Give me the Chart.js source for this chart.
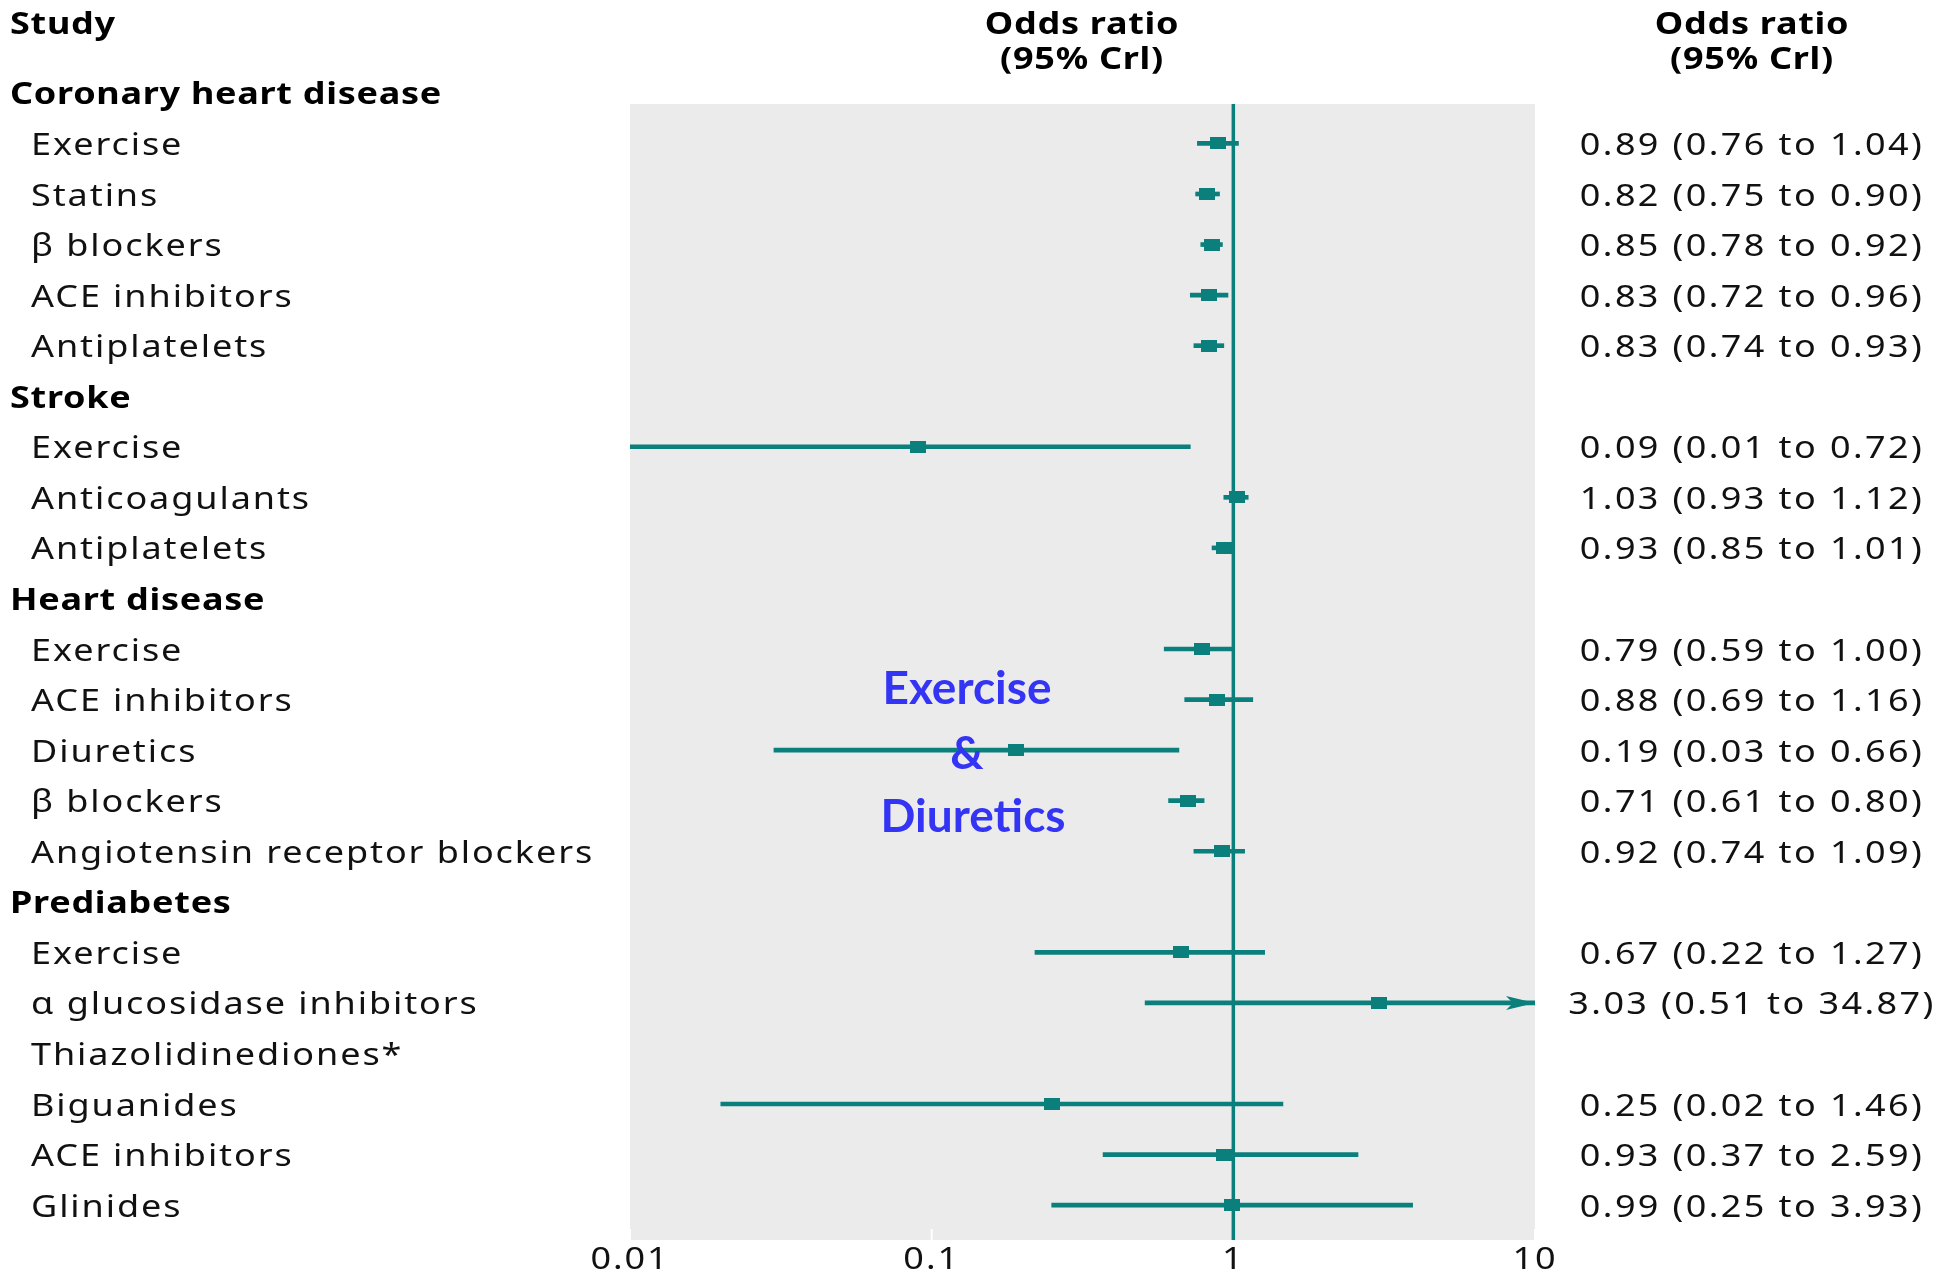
<!DOCTYPE html>
<html>
<head>
<meta charset="utf-8">
<script src="https://cdn.jsdelivr.net/npm/chart.js@4.4.1/dist/chart.umd.min.js"></script>
<style>
  html, body { margin: 0; padding: 0; background: #fff; }
  #wrap { width: 1944px; height: 1274px; }
</style>
</head>
<body>
<div id="wrap"><canvas id="forest" width="1944" height="1274"></canvas></div>
<script>
// rows top to bottom, headers have no estimate
const studies = [
  "Coronary heart disease", "Exercise", "Statins", "β blockers", "ACE inhibitors", "Antiplatelets",
  "Stroke", "Exercise", "Anticoagulants", "Antiplatelets",
  "Heart disease", "Exercise", "ACE inhibitors", "Diuretics", "β blockers", "Angiotensin receptor blockers",
  "Prediabetes", "Exercise", "α glucosidase inhibitors", "Thiazolidinediones*", "Biguanides", "ACE inhibitors", "Glinides"
];
const isGroup = [
  true, false, false, false, false, false,
  true, false, false, false,
  true, false, false, false, false, false,
  true, false, false, false, false, false, false
];
const oddsRatio = [
  null, 0.89, 0.82, 0.85, 0.83, 0.83,
  null, 0.09, 1.03, 0.93,
  null, 0.79, 0.88, 0.19, 0.71, 0.92,
  null, 0.67, 3.03, null, 0.25, 0.93, 0.99
];
const lowerCrl = [
  null, 0.76, 0.75, 0.78, 0.72, 0.74,
  null, 0.01, 0.93, 0.85,
  null, 0.59, 0.69, 0.03, 0.61, 0.74,
  null, 0.22, 0.51, null, 0.02, 0.37, 0.25
];
const upperCrl = [
  null, 1.04, 0.90, 0.92, 0.96, 0.93,
  null, 0.72, 1.12, 1.01,
  null, 1.00, 1.16, 0.66, 0.80, 1.09,
  null, 1.27, 34.87, null, 1.46, 2.59, 3.93
];
const tickValues = [0.01, 0.1, 1, 10];
const tickLabels = ["0.01", "0.1", "1", "10"];

const TEAL = "#0b7f7b";
const INK = "#111111";
const X_MIN = 0.01, X_MAX = 10;
const Y_MIN = 0.22, Y_MAX = 22.69;

const fmt = v => v.toFixed(2);

// rectangular marker (the original squares are a bit wider than tall)
const marker = document.createElement("canvas");
marker.width = 16;
marker.height = 12;
const mctx = marker.getContext("2d");
mctx.fillStyle = TEAL;
mctx.fillRect(0, 0, 16, 12);

const ciData = [];
const pointData = [];
oddsRatio.forEach((v, i) => {
  if (v === null) return;
  ciData.push({ y: i, x: [lowerCrl[i], upperCrl[i]] });
  pointData.push({ y: i, x: v });
});

function drawText(ctx, text, x, y, o) {
  ctx.save();
  ctx.font = o.font;
  ctx.fillStyle = o.color || INK;
  ctx.textAlign = o.align || "left";
  ctx.textBaseline = "middle";
  ctx.letterSpacing = o.spacing || "0px";
  ctx.translate(x, y + 3);
  ctx.scale(o.sx || 1, 1);
  ctx.fillText(text, 0, 0);
  ctx.restore();
}

const REG = "30px 'Noto Sans'";
const BOLD = "bold 30px 'Noto Sans'";
const regStyle = { font: REG, sx: 1.2, spacing: "1.6px" };
const boldStyle = { font: BOLD, color: "#000", sx: 1.2, spacing: "0.6px" };

const forestPlugin = {
  id: "forest",
  beforeDatasetsDraw(chart) {
    const { ctx, chartArea: a } = chart;
    const xs = chart.scales.x;
    ctx.save();
    ctx.fillStyle = "#ebebeb";
    ctx.fillRect(a.left, a.top, a.right - a.left, a.bottom - a.top);
    // small white ticks at the bottom edge
    ctx.strokeStyle = "#ffffff";
    ctx.lineWidth = 2;
    tickValues.forEach(v => {
      const px = xs.getPixelForValue(v);
      ctx.beginPath();
      ctx.moveTo(px, a.bottom - 11);
      ctx.lineTo(px, a.bottom);
      ctx.stroke();
    });
    ctx.restore();
  },
  afterDatasetsDraw(chart) {
    const { ctx, chartArea: a } = chart;
    const xs = chart.scales.x, ys = chart.scales.y;

    // arrow for intervals running past the axis
    upperCrl.forEach((hi, i) => {
      if (hi === null || hi <= X_MAX) return;
      const tip = xs.getPixelForValue(X_MAX);
      const py = ys.getPixelForValue(i);
      ctx.save();
      ctx.fillStyle = TEAL;
      ctx.beginPath();
      ctx.moveTo(tip, py);
      ctx.lineTo(tip - 29, py - 7);
      ctx.lineTo(tip - 22, py);
      ctx.lineTo(tip - 29, py + 7);
      ctx.closePath();
      ctx.fill();
      ctx.restore();
    });

    // headers
    drawText(ctx, "Study", 10, 22, boldStyle);
    [1082, 1752].forEach(cx => {
      drawText(ctx, "Odds ratio", cx, 22, { ...boldStyle, align: "center" });
      drawText(ctx, "(95% Crl)", cx, 57, { ...boldStyle, align: "center" });
    });

    // study labels and estimates
    studies.forEach((name, i) => {
      const py = ys.getPixelForValue(i);
      if (isGroup[i]) {
        drawText(ctx, name, 10, py, boldStyle);
      } else {
        drawText(ctx, name, 31, py, regStyle);
      }
      if (oddsRatio[i] !== null) {
        const txt = fmt(oddsRatio[i]) + " (" + fmt(lowerCrl[i]) + " to " + fmt(upperCrl[i]) + ")";
        drawText(ctx, txt, 1752, py, { ...regStyle, align: "center", spacing: "2px" });
      }
    });

    // x tick labels
    tickValues.forEach((v, k) => {
      drawText(ctx, tickLabels[k], xs.getPixelForValue(v), a.bottom + 17, { ...regStyle, align: "center" });
    });

    // annotation
    const note = ["Exercise", "&", "Diuretics"];
    const noteX = [967, 967, 973];
    const noteY = [686, 751, 814];
    note.forEach((t, k) => {
      drawText(ctx, t, noteX[k], noteY[k], { font: "bold 46px Lato", color: "#3434f4", align: "center" });
    });
  }
};

new Chart(document.getElementById("forest"), {
  data: {
    datasets: [
      {
        type: "scatter",
        label: "Odds ratio",
        data: pointData,
        pointStyle: marker,
        order: 0
      },
      {
        type: "bar",
        label: "95% Crl",
        data: ciData,
        backgroundColor: TEAL,
        barThickness: 4,
        order: 1
      },
      {
        type: "line",
        label: "No effect",
        data: [{ x: 1, y: Y_MIN }, { x: 1, y: Y_MAX }],
        borderColor: TEAL,
        borderWidth: 3.5,
        pointRadius: 0,
        order: 2
      }
    ]
  },
  options: {
    responsive: false,
    animation: false,
    indexAxis: "y",
    layout: { padding: { left: 630, right: 409, top: 104, bottom: 34 } },
    scales: {
      x: { type: "logarithmic", min: X_MIN, max: X_MAX, display: false, offset: false },
      y: { type: "linear", reverse: true, min: Y_MIN, max: Y_MAX, display: false, offset: false }
    },
    plugins: {
      legend: { display: false },
      tooltip: { enabled: false }
    }
  },
  plugins: [forestPlugin]
});
</script>
</body>
</html>
